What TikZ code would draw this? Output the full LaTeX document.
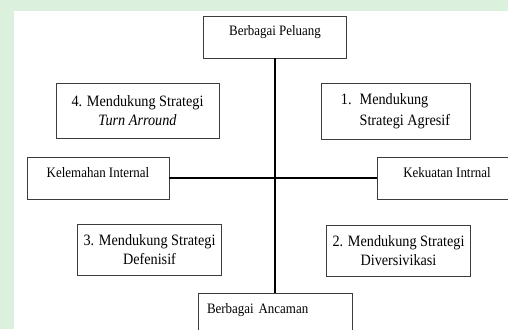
\documentclass[tikz,border=0pt]{standalone}
\usepackage{fontspec}
\setmainfont{Liberation Serif}[FakeStretch=0.9]
\usepackage{tikz}
\usetikzlibrary{positioning}
\definecolor{wmark}{RGB}{220,240,222}
\definecolor{boxline}{RGB}{60,60,60}
\tikzset{
    axis/.style = {line width=2.8pt, black},
    quad/.style = {rectangle, draw=boxline, line width=0.9pt, align=center,
                   inner xsep=6pt, font=\fontsize{15.8}{19}\selectfont},
    label/.style = {rectangle, draw=boxline, line width=0.9pt, inner sep=0pt,
                    text height=20pt, text depth=22pt, font=\fontsize{14.4}{19}\selectfont}
}

\begin{document}
\begin{tikzpicture}
  [x=1pt,y=-1pt]

  \useasboundingbox (0,0) rectangle (508,329);
  \clip (0,0) rectangle (508,329);
  \fill[wmark] (0,0) rectangle (508,329);
  \fill[white] (14,11) rectangle (508,329);

  \node[label, minimum width=143pt, anchor=base] (peluang) at (275,36) {Berbagai Peluang};
  \node[label, minimum width=142pt, anchor=base] (kelemahan) at (98,177) {Kelemahan Internal};
  \node[label, minimum width=140pt, anchor=base] (kekuatan) at (447,177) {Kekuatan Intrnal};
  \node[label, text width=136pt, inner xsep=9pt, align=left, anchor=base] (ancaman) at (275,313) {Berbagai Ancaman};

  \node[quad, minimum width=163pt, minimum height=55pt] (q4) at (137.5,110.5)
    {4. Mendukung Strategi\\\textit{Turn Arround}};
  \node[quad, minimum width=149pt, minimum height=56pt] (q1) at (395.5,111)
    {\begin{tabular}{@{}l@{\hspace{8pt}}l@{}}1.&Mendukung\\[2pt]&Strategi Agresif\end{tabular}};
  \node[quad, minimum width=143pt, minimum height=51pt] (q3) at (149.5,249.5)
    {3. Mendukung Strategi\\Defenisif};
  \node[quad, minimum width=143pt, minimum height=51pt] (q2) at (398.5,250.5)
    {2. Mendukung Strategi\\Diversivikasi};

  \path[axis] (peluang) edge (ancaman);
  \path[axis] (kelemahan) edge (kekuatan);
\end{tikzpicture}
\end{document}
